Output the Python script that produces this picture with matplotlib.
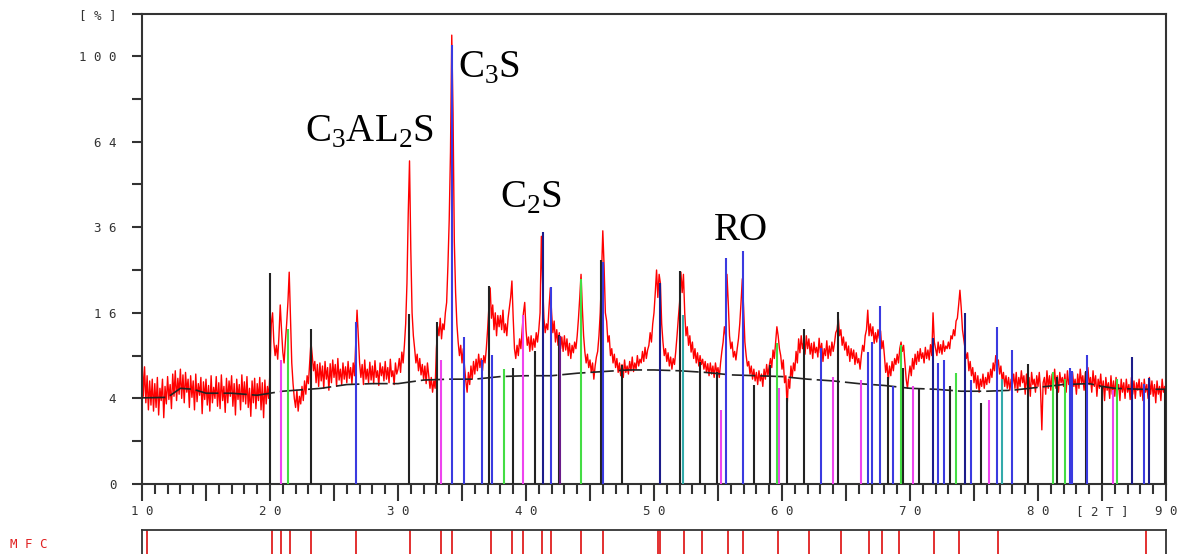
import numpy as np
import matplotlib
matplotlib.use("Agg")
import matplotlib.pyplot as plt

plt.rcParams['mathtext.fontset'] = 'custom'
plt.rcParams['mathtext.rm'] = 'Liberation Serif'

# measured pattern, 2theta 10..90 step 0.1 (intensity in %), one row per degree
tth = np.round(np.linspace(10.0, 90.0, 801), 1)
counts = [
    9.0, 4.2, 7.5, 3.6, 6.4, 3.0, 5.8, 3.4, 6.0, 2.9,
    5.5, 3.2, 6.2, 2.6, 5.0, 3.8, 6.0, 2.4, 5.2, 3.5,
    6.3, 3.9, 5.4, 3.1, 6.6, 4.2, 7.0, 3.8, 6.1, 4.4,
    7.2, 4.0, 6.5, 3.6, 6.8, 4.6, 6.0, 3.2, 6.4, 4.1,
    5.8, 3.0, 6.6, 3.7, 5.5, 4.3, 6.2, 2.7, 5.7, 3.9,
    6.0, 3.4, 5.3, 2.9, 6.4, 3.6, 5.1, 4.0, 6.3, 3.3,
    5.6, 3.1, 6.5, 3.8, 5.2, 2.8, 6.1, 3.6, 5.8, 4.2,
    6.4, 3.3, 5.5, 2.6, 6.0, 3.9, 5.4, 3.0, 6.5, 3.7,
    5.7, 3.5, 6.3, 3.2, 5.0, 2.5, 5.8, 3.6, 6.1, 3.1,
    5.5, 3.8, 6.2, 3.0, 5.6, 2.4, 5.9, 3.5, 5.2, 4.0,
    7.0, 14.0, 16.0, 11.0, 9.0, 10.5, 8.5, 12.0, 17.5, 13.0,
    9.5, 8.0, 11.0, 14.0, 18.0, 24.5, 15.0, 8.0, 5.5, 4.0,
    3.2, 4.8, 2.9, 4.2, 3.5, 5.2, 3.8, 5.8, 4.4, 6.4,
    5.5, 8.0, 11.0, 9.0, 7.0, 8.2, 5.6, 7.8, 5.2, 8.0,
    5.8, 7.6, 5.0, 8.2, 6.0, 7.4, 4.8, 7.9, 5.6, 8.4,
    6.2, 7.8, 5.2, 8.6, 5.9, 7.2, 5.4, 8.0, 6.0, 7.5,
    5.6, 8.2, 6.1, 7.4, 5.5, 8.0, 6.4, 11.0, 16.5, 12.0,
    8.0, 6.2, 7.8, 5.4, 8.4, 6.0, 7.2, 5.6, 8.1, 5.9,
    7.6, 5.5, 8.3, 6.2, 7.0, 5.3, 8.0, 6.4, 7.5, 5.8,
    8.2, 6.0, 7.4, 5.6, 8.5, 6.3, 7.0, 5.4, 8.0, 6.6,
    7.2, 8.6, 6.8, 9.5, 8.0, 10.5, 14.0, 22.0, 40.0, 57.0,
    30.0, 16.0, 12.0, 10.0, 8.0, 9.2, 7.0, 8.6, 6.5, 7.8,
    6.0, 7.6, 5.5, 8.0, 6.4, 5.0, 6.2, 4.6, 5.8, 5.0,
    10.0, 13.5, 12.0, 15.0, 11.5, 14.0, 13.0, 16.0, 18.0, 26.0,
    38.0, 60.0, 110.0, 75.0, 32.0, 20.0, 14.0, 11.0, 9.0, 10.5,
    8.0, 10.0, 7.5, 5.8, 4.6, 6.8, 5.4, 7.6, 6.0, 8.2,
    6.6, 8.5, 7.0, 9.2, 7.4, 8.6, 7.0, 9.0, 8.0, 10.0,
    13.0, 17.0, 21.0, 15.0, 17.5, 13.0, 16.0, 12.0, 15.5, 13.5,
    15.5, 13.0, 16.5, 12.5, 14.0, 12.0, 15.0, 17.0, 19.0, 22.5,
    15.0, 10.0, 8.6, 10.5, 9.0, 11.5, 10.0, 13.0, 16.0, 18.0,
    13.0, 10.5, 11.8, 9.6, 12.0, 9.8, 11.5, 10.2, 12.5, 11.0,
    13.0, 16.0, 33.5, 22.0, 15.0, 12.5, 14.0, 13.0, 17.0, 21.0,
    16.0, 12.5, 14.5, 11.0, 13.0, 10.5, 12.5, 10.0, 11.8, 9.6,
    12.0, 9.8, 11.5, 9.0, 10.8, 8.6, 10.5, 9.4, 11.0, 10.0,
    12.0, 15.0, 19.0, 24.0, 17.0, 12.0, 9.5, 8.0, 9.2, 7.4,
    8.4, 6.8, 8.0, 6.0, 7.6, 8.8, 9.6, 12.0, 16.0, 24.0,
    35.0, 26.0, 16.0, 14.5, 11.0, 12.0, 9.0, 10.0, 8.0, 9.2,
    7.4, 8.6, 6.8, 8.0, 6.4, 7.8, 6.2, 8.4, 6.8, 7.6,
    6.6, 8.2, 7.0, 8.8, 6.9, 8.0, 7.2, 9.0, 7.6, 8.5,
    8.0, 9.6, 8.2, 10.2, 8.6, 9.8, 10.5, 12.5, 11.0, 14.0,
    16.0, 20.0, 25.0, 19.0, 24.0, 22.0, 14.0, 11.0, 9.0, 10.0,
    8.2, 9.4, 7.6, 8.8, 7.2, 8.6, 7.8, 9.6, 12.0, 15.0,
    18.0, 24.5, 20.0, 24.0, 16.0, 12.0, 13.5, 10.5, 12.0, 9.5,
    11.0, 8.6, 10.0, 8.0, 9.4, 7.6, 9.0, 7.8, 8.5, 7.2,
    8.2, 6.8, 7.9, 6.4, 8.0, 6.6, 7.6, 6.2, 8.0, 6.8,
    7.4, 6.2, 8.0, 9.6, 11.0, 13.5, 12.0, 24.0, 18.0, 12.0,
    10.0, 11.0, 8.8, 9.6, 8.4, 10.0, 11.5, 14.0, 18.0, 23.0,
    17.0, 11.0, 9.0, 7.6, 8.2, 6.6, 7.6, 6.0, 7.2, 5.8,
    6.8, 5.4, 7.0, 5.8, 6.6, 5.2, 7.2, 6.0, 7.8, 6.4,
    7.6, 8.6, 7.4, 9.8, 8.6, 11.0, 13.5, 12.0, 10.0, 9.0,
    7.2, 8.4, 5.6, 6.4, 3.2, 6.0, 5.0, 7.6, 6.2, 8.0,
    7.0, 9.6, 8.0, 11.5, 9.4, 12.0, 10.0, 11.0, 9.2, 12.0,
    10.0, 11.5, 9.2, 10.8, 8.6, 11.0, 9.4, 10.2, 8.8, 11.6,
    9.4, 10.8, 8.2, 10.0, 9.0, 11.2, 8.6, 10.4, 9.0, 11.0,
    9.6, 10.8, 12.5, 13.0, 15.0, 12.0, 13.0, 10.5, 11.8, 9.8,
    11.0, 9.0, 10.4, 8.2, 10.0, 8.6, 9.8, 7.8, 9.4, 8.0,
    8.6, 7.2, 9.0, 10.5, 9.6, 12.0, 13.0, 16.5, 12.0, 14.0,
    12.0, 13.5, 10.8, 12.5, 11.0, 13.0, 11.6, 12.8, 10.0, 11.2,
    9.0, 6.8, 8.0, 5.8, 7.6, 6.4, 8.2, 7.0, 8.6, 7.8,
    9.2, 8.0, 10.0, 11.0, 9.6, 10.5, 8.0, 6.0, 5.0, 6.4,
    7.6, 6.4, 8.6, 7.2, 9.2, 7.8, 9.6, 8.2, 10.0, 8.6,
    9.4, 8.0, 10.2, 8.6, 9.8, 8.4, 10.6, 9.0, 16.0, 11.0,
    10.0, 9.0, 11.0, 9.4, 10.6, 9.2, 11.2, 9.6, 10.4, 10.0,
    11.0, 10.0, 12.0, 11.5, 13.0, 12.0, 14.5, 15.0, 17.5, 20.5,
    17.0, 13.0, 11.5, 10.0, 8.6, 9.4, 7.0, 8.2, 6.4, 7.4,
    5.6, 6.8, 5.0, 6.4, 4.6, 6.0, 5.2, 6.6, 5.0, 6.2,
    5.4, 6.8, 5.6, 7.2, 6.2, 8.0, 7.0, 9.0, 7.6, 8.4,
    6.6, 7.6, 5.8, 6.8, 5.2, 6.4, 5.0, 6.2, 4.8, 6.0,
    5.4, 6.6, 5.0, 6.8, 4.6, 6.2, 5.2, 7.0, 5.6, 6.4,
    4.4, 6.6, 5.0, 6.2, 4.2, 6.8, 5.4, 6.0, 4.6, 6.4,
    5.2, 6.8, 4.8, 1.6, 5.6, 6.2, 4.4, 7.0, 5.0, 6.4,
    4.8, 6.6, 5.4, 7.2, 5.0, 6.4, 4.6, 6.8, 5.6, 6.2,
    5.2, 6.6, 4.6, 7.0, 5.4, 6.2, 4.8, 6.8, 5.2, 6.0,
    4.4, 6.6, 5.0, 7.2, 5.6, 6.4, 4.8, 6.8, 5.8, 7.4,
    5.4, 6.2, 4.6, 7.0, 5.2, 6.4, 4.2, 6.0, 5.0, 6.6,
    4.6, 5.8, 3.8, 6.2, 4.8, 5.6, 4.0, 6.4, 4.4, 5.8,
    4.2, 6.2, 4.8, 5.4, 3.8, 6.0, 4.6, 5.6, 4.0, 6.0,
    4.6, 5.4, 3.9, 6.2, 4.4, 5.8, 4.0, 5.6, 4.8, 6.0,
    4.2, 5.6, 3.8, 6.0, 4.6, 5.4, 4.0, 6.2, 4.4, 5.8,
    4.2, 5.4, 3.6, 5.8, 4.4, 5.2, 3.8, 6.0, 4.6, 5.2,
    4.8,
]

# fitted background
bg_tth = [10, 12, 13, 14, 15, 17, 19, 20, 21, 22, 24, 26, 28, 30, 32, 34, 36, 38, 40,
          42, 44, 46, 48, 50, 52, 54, 56, 58, 60, 62, 64, 66, 68, 70, 72, 74, 76, 78,
          80, 82, 84, 85, 86, 88, 90]
bg_int = [4.05, 4.1, 5.0, 4.9, 4.5, 4.5, 4.3, 4.5, 4.7, 4.8, 5.0, 5.4, 5.5, 5.5, 5.9,
          6.0, 6.0, 6.3, 6.4, 6.4, 6.7, 6.9, 7.1, 7.1, 7.0, 6.8, 6.5, 6.4, 6.3, 6.0,
          5.8, 5.5, 5.3, 5.0, 4.9, 4.7, 4.7, 4.8, 5.1, 5.4, 5.5, 5.2, 5.0, 4.9, 4.9]

# reference pattern sticks: (2theta, intensity) per phase colour
sticks = {
    '#222222': ([20.0, 23.18, 30.83, 33.05, 37.1, 39.0, 40.72, 42.55, 45.88, 47.5, 52.03,
                 53.62, 54.93, 57.78, 59.08, 60.37, 61.74, 64.4, 68.26, 69.45, 70.7,
                 73.13, 75.55, 79.19, 81.5, 83.78, 85.02, 89.92],
                [24.4, 13.1, 15.7, 14.4, 21.3, 7.3, 9.6, 12.1, 27.4, 7.7, 24.8,
                 8.1, 6.9, 5.35, 7.7, 4.0, 13.1, 16.1, 6.3, 7.35, 5.0,
                 5.2, 3.55, 7.8, 6.2, 7.0, 5.2, 4.8]),
    '#3a3ae0': ([26.74, 34.23, 35.12, 36.54, 37.33, 41.98, 46.02, 55.65, 56.92, 63.05,
                 66.7, 67.0, 67.66, 68.65, 72.21, 72.66, 74.77, 76.77, 77.99, 82.5,
                 82.68, 83.84, 88.28],
                [14.4, 105.0, 11.8, 8.4, 9.1, 21.1, 27.0, 28.0, 29.7, 10.05,
                 9.5, 11.05, 17.3, 5.2, 7.95, 8.4, 5.9, 13.5, 9.8, 7.3,
                 7.0, 9.1, 5.5]),
    '#1c1c8a': ([41.3, 50.5, 71.82, 74.27, 87.32, 88.67],
                [34.6, 22.0, 11.6, 15.9, 8.85, 6.1]),
    '#ee44ee': ([20.86, 33.35, 39.75, 55.25, 59.77, 64.01, 66.15, 70.26, 76.2, 85.83],
                [8.4, 8.4, 15.6, 3.0, 5.0, 6.3, 5.9, 5.2, 3.85, 4.8]),
    '#44dd44': ([21.43, 38.3, 44.28, 59.62, 69.3, 73.59, 81.2, 82.1, 86.15],
                [13.1, 7.2, 22.9, 10.8, 10.5, 6.7, 6.9, 6.0, 6.0]),
    '#33aaaa': ([52.3, 77.21], [15.6, 6.0]),
    '#6a1a8a': ([42.62], [12.0]),
}

# MFC marker positions
mfc = [10.36, 20.13, 20.86, 21.56, 23.2, 26.72, 30.94, 33.36, 34.24, 37.24, 38.88,
       39.74, 41.22, 41.95, 44.3, 46.04, 50.34, 50.47, 52.34, 53.77, 55.75, 56.98,
       59.71, 62.1, 64.6, 66.82, 67.79, 69.17, 71.9, 73.83, 76.9, 88.41]

phases = [('C$_\\mathregular{3}$S', 34.69, 90.0),
          ('C$_\\mathregular{3}$AL$_\\mathregular{2}$S', 22.73, 64.0),
          ('C$_\\mathregular{2}$S', 37.97, 41.6),
          ('RO', 54.69, 32.5)]

ytick_vals = [0, 4, 16, 36, 64, 100, 120.6]
ytick_labels = ['0', '4', '1 6', '3 6', '6 4', '1 0 0', '[ % ]']
yminor_vals = [1, 9, 25, 49, 81]
xtick_vals = list(range(10, 91, 5))
xtick_labels = ['1 0', '', '2 0', '', '3 0', '', '4 0', '', '5 0', '', '6 0', '',
                '7 0', '', '8 0', '[ 2 T ]', '9 0']

fig = plt.figure(figsize=(11.78, 5.54), dpi=100)
ax = fig.add_axes([142 / 1178, 70 / 554, 1024 / 1178, 470 / 554])
ax.set_yscale('function', functions=(lambda v: np.sqrt(np.clip(v, 0, None)), np.square))

ax.plot(tth, counts, color='#ff0000', lw=1.0, zorder=2)
ax.plot(bg_tth, bg_int, color='#222222', lw=1.2, dashes=(14, 3), zorder=3)
for col, (pos, hts) in sticks.items():
    ax.vlines(pos, 0, hts, colors=col, lw=1.5, zorder=4)

for txt, x, y in phases:
    ax.text(x, y, txt, fontsize=28, family='Liberation Serif', ha='left', va='baseline',
            color='black', zorder=6)

ax.set_xlim(10, 90)
ax.set_ylim(0, 120.6)
for s in ax.spines.values():
    s.set_color('#333333')
    s.set_linewidth(1.5)

lab_font = dict(family='DejaVu Sans Mono', size=9, color='#333333')
ax.set_xticks(xtick_vals)
ax.set_xticklabels(xtick_labels, **lab_font)
ax.set_xticks(np.arange(10, 91, 1), minor=True)
ax.tick_params(axis='x', which='major', direction='out', length=12, width=1.5,
               color='#333333', pad=3)
ax.tick_params(axis='x', which='minor', direction='out', length=7, width=1.5,
               color='#333333')
ax.set_yticks(ytick_vals)
ax.set_yticklabels(ytick_labels, **lab_font)
ax.set_yticks(yminor_vals, minor=True)
ax.tick_params(axis='y', which='both', direction='out', length=7.5, width=1.5,
               color='#333333', pad=11)
ax.yaxis.set_minor_formatter(plt.NullFormatter())

# MFC strip
ax2 = fig.add_axes([142 / 1178, -0.04, 1024 / 1178, 0.04 + 24 / 554])
ax2.set_xlim(10, 90)
ax2.set_ylim(0, 1)
ax2.vlines(mfc, 0, 1, colors='#e02020', lw=1.3)
ax2.set_xticks([])
ax2.set_yticks([])
for s in ax2.spines.values():
    s.set_color('#333333')
    s.set_linewidth(1.3)
fig.text(10 / 1178, 1 - 545 / 554, 'M F C', family='DejaVu Sans Mono', size=9,
         color='#e02020', va='center', ha='left')

fig.savefig('out.png', dpi=100)
